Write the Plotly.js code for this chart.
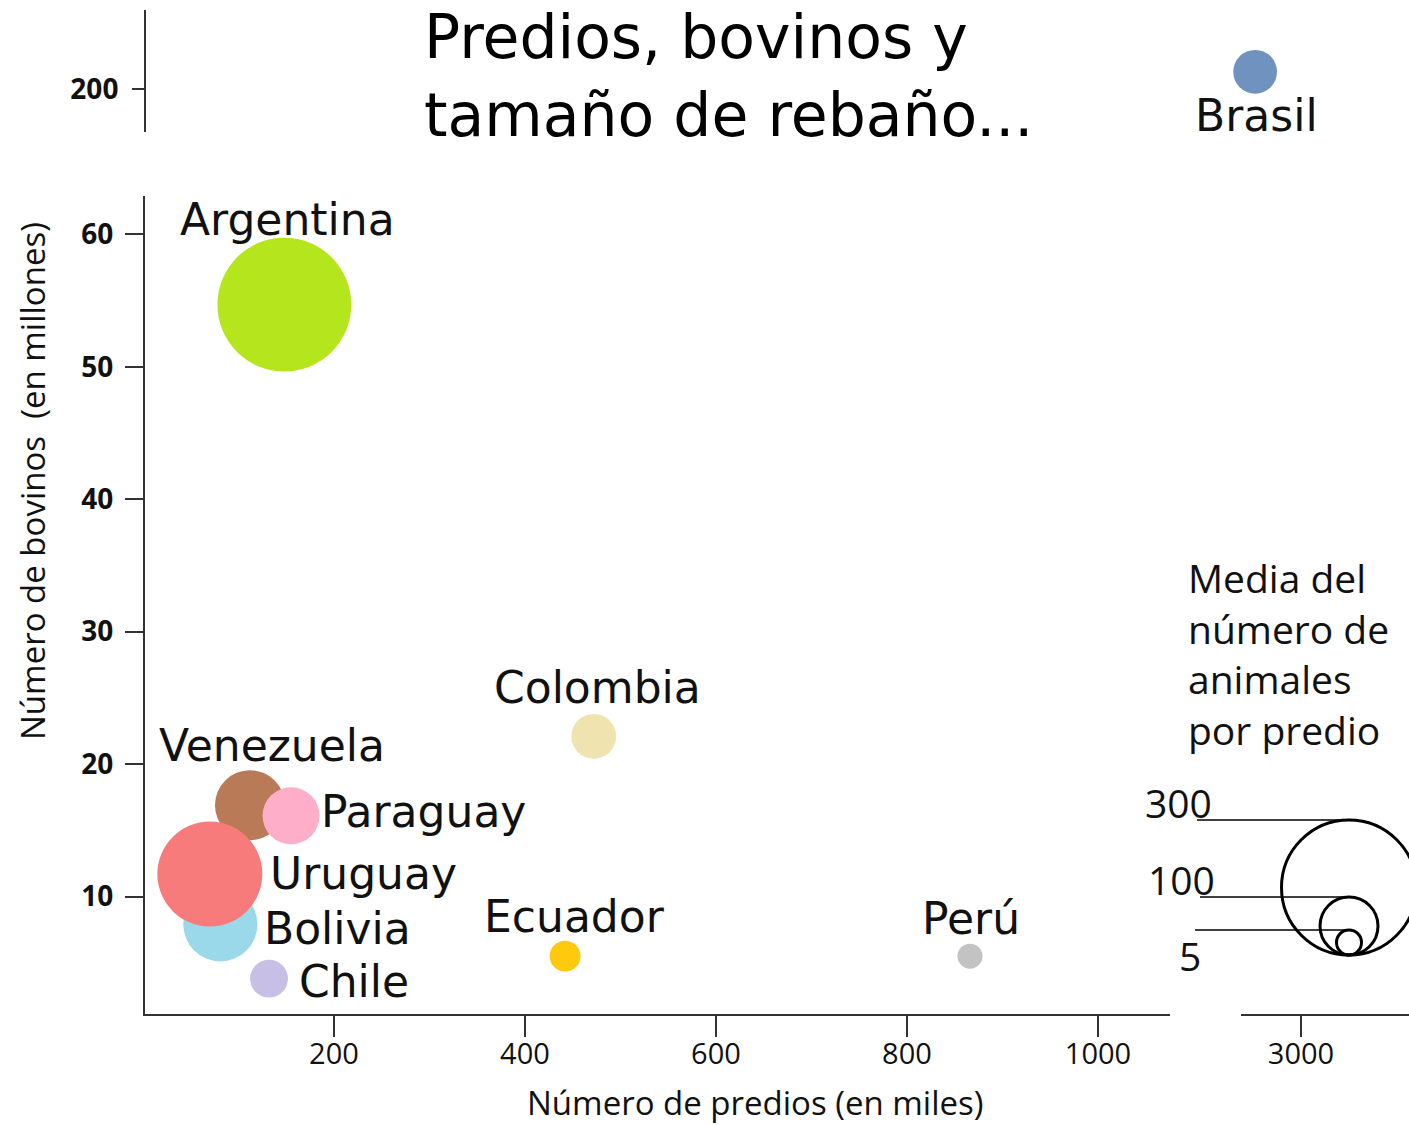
<!DOCTYPE html>
<html>
<head>
<meta charset="utf-8">
<script src="https://cdn.plot.ly/plotly-3.0.1.min.js"></script>
<style>
  html, body { margin: 0; padding: 0; background: #ffffff; }
  #chart { width: 1409px; height: 1125px; }
</style>
</head>
<body>
<div id="chart"></div>
<script>
// ---------- DATA ----------
const paises        = ['Argentina', 'Colombia', 'Venezuela', 'Paraguay', 'Bolivia', 'Uruguay', 'Chile', 'Ecuador', 'Perú'];
const predios       = [148, 472, 112, 155, 81, 70, 132, 442, 866];          // miles
const bovinos       = [54.7, 22.1, 16.9, 16.1, 7.9, 11.7, 3.8, 5.5, 5.5];   // millones
const mediaAnimales = [297, 62, 131, 97, 142, 222, 42, 22, 5];              // animales por predio

const paisBrasil    = ['Brasil'];
const prediosBrasil = [2952];
const bovinosBrasil = [201.3];
const mediaBrasil   = [59];

const leyendaValores = [300, 100, 5];
const leyendaTextos  = ['300', '100', '5'];

const xTicks  = [200, 400, 600, 800, 1000];
const xTicks2 = [3000];
const yTicks  = [10, 20, 30, 40, 50, 60];
const yTicks2 = [200];

// ---------- STYLE ----------
const W = 1409, H = 1125;
const px = v => v / W;          // pixel -> paper x
const py = v => 1 - v / H;      // pixel -> paper y
const colores = ['#b5e61d', '#efe4b0', '#b97a57', '#ffaec9', '#99d9ea', '#f77b7b', '#c8bfe7', '#ffc90e', '#c3c3c3'];
const colorBrasil = '#7092be';
const FONT = 'Open Sans, Lato, DejaVu Sans, sans-serif';
const LABELFONT = 'DejaVu Sans, Open Sans, sans-serif';
const axisColor = '#333333';

// bubble diameter scale, as implied by the size legend (piecewise linear)
const escala = [[5, 25], [100, 58], [300, 135]];
function diametro(v) {
  for (let i = 0; i < escala.length - 1; i++) {
    const [a, da] = escala[i], [b, db] = escala[i + 1];
    if (v <= b || i === escala.length - 2) {
      return da + (v - a) * (db - da) / (b - a);
    }
  }
}

// label offsets (px) relative to each bubble
const offsets = {
  'Argentina': [3, 85], 'Colombia': [4, 49], 'Venezuela': [22, 60], 'Paraguay': [132, 4],
  'Uruguay': [154, 1], 'Bolivia': [117, -4], 'Chile': [85, -3], 'Ecuador': [9, 40],
  'Perú': [1, 38], 'Brasil': [1, -44]
};

const traces = [
  {
    type: 'scatter', mode: 'markers',
    x: predios, y: bovinos, text: paises,
    xaxis: 'x', yaxis: 'y', cliponaxis: false,
    marker: { size: mediaAnimales.map(diametro), sizemode: 'diameter', color: colores, opacity: 1, line: { width: 0 } },
    hovertemplate: '%{text}<br>%{x} mil predios<br>%{y} M bovinos<extra></extra>',
    showlegend: false
  },
  {
    type: 'scatter', mode: 'markers',
    x: prediosBrasil, y: bovinosBrasil, text: paisBrasil,
    xaxis: 'x2', yaxis: 'y2', cliponaxis: false,
    marker: { size: mediaBrasil.map(diametro), sizemode: 'diameter', color: colorBrasil, opacity: 1, line: { width: 0 } },
    hovertemplate: '%{text}<br>%{x} mil predios<br>%{y} M bovinos<extra></extra>',
    showlegend: false
  }
];

const labelFont = { family: LABELFONT, size: 44, color: '#111111' };
const annotations = [];
paises.forEach((p, i) => {
  annotations.push({
    xref: 'x', yref: 'y', x: predios[i], y: bovinos[i], text: p, showarrow: false,
    xanchor: 'center', yanchor: 'middle', xshift: offsets[p][0], yshift: offsets[p][1],
    font: labelFont
  });
});
annotations.push({
  xref: 'x2', yref: 'y2', x: prediosBrasil[0], y: bovinosBrasil[0], text: paisBrasil[0], showarrow: false,
  xanchor: 'center', yanchor: 'middle', xshift: offsets['Brasil'][0], yshift: offsets['Brasil'][1],
  font: labelFont
});

// axis titles
annotations.push({
  xref: 'paper', yref: 'paper', x: px(756), y: py(1102), text: 'Número de predios (en miles)',
  showarrow: false, xanchor: 'center', yanchor: 'middle',
  font: { family: FONT, size: 33, color: '#111111' }
});
annotations.push({
  xref: 'paper', yref: 'paper', x: px(32), y: py(481), text: 'Número de bovinos  (en millones)',
  showarrow: false, xanchor: 'center', yanchor: 'middle', textangle: -90,
  font: { family: FONT, size: 33, color: '#111111' }
});

// size legend
annotations.push({
  xref: 'paper', yref: 'paper', x: px(1186), y: py(549), text: 'Media del<br>número de<br>animales<br>por predio',
  showarrow: false, xanchor: 'left', yanchor: 'top', align: 'left',
  font: { family: FONT, size: 39, color: '#111111' }
});

const shapes = [];
const cx = 1349, base = 955;
const labelPos = [[1178, 802], [1181, 879], [1190, 955]];
const lineStart = [1197, 1200, 1195];
leyendaValores.forEach((v, i) => {
  const d = diametro(v);
  shapes.push({
    type: 'circle', xref: 'paper', yref: 'paper',
    x0: px(cx - d / 2), x1: px(cx + d / 2), y0: py(base), y1: py(base - d),
    line: { color: '#000000', width: 3 }, fillcolor: 'rgba(0,0,0,0)'
  });
  shapes.push({
    type: 'line', xref: 'paper', yref: 'paper',
    x0: px(lineStart[i]), x1: px(cx), y0: py(base - d), y1: py(base - d),
    line: { color: '#000000', width: 1.5 }
  });
  annotations.push({
    xref: 'paper', yref: 'paper', x: px(labelPos[i][0]), y: py(labelPos[i][1]), text: leyendaTextos[i],
    showarrow: false, xanchor: 'center', yanchor: 'middle',
    font: { family: FONT, size: 39, color: '#111111' }
  });
});

const tickFont = { family: FONT, size: 29, color: '#111111' };
const yTickFont = { family: FONT, size: 28, color: '#111111', weight: 'bold' };

const layout = {
  width: W, height: H,
  margin: { l: 0, r: 0, t: 0, b: 0 },
  paper_bgcolor: '#ffffff', plot_bgcolor: '#ffffff',
  showlegend: false,
  title: {
    text: 'Predios, bovinos y<br>tamaño de rebaño...',
    xref: 'container', yref: 'container',
    x: px(424), xanchor: 'left',
    y: 1 - 58 / H, yanchor: 'middle',
    font: { family: LABELFONT, size: 60, color: '#000000' }
  },
  xaxis: {
    domain: [px(145), px(1170)], range: [2.1, 1075.4], anchor: 'y',
    tickvals: xTicks, ticktext: xTicks.map(String), ticks: 'outside', ticklen: 21, tickwidth: 1.5, tickcolor: axisColor,
    ticklabelstandoff: -8,
    showline: true, linecolor: axisColor, linewidth: 2, showgrid: false, zeroline: false,
    tickfont: tickFont, fixedrange: true
  },
  xaxis2: {
    domain: [px(1241), 1], range: [2937.2, 3113.1], anchor: 'y',
    tickvals: xTicks2, ticktext: xTicks2.map(String), ticks: 'outside', ticklen: 21, tickwidth: 1.5, tickcolor: axisColor,
    ticklabelstandoff: -8,
    showline: true, linecolor: axisColor, linewidth: 2, showgrid: false, zeroline: false,
    tickfont: tickFont, fixedrange: true
  },
  yaxis: {
    domain: [py(1014), py(196)], range: [1.13, 62.9], anchor: 'x',
    tickvals: yTicks, ticktext: yTicks.map(String), ticks: 'outside', ticklen: 18, tickwidth: 1.5, tickcolor: axisColor,
    ticklabelstandoff: 6,
    showline: true, linecolor: axisColor, linewidth: 2, showgrid: false, zeroline: false,
    tickfont: yTickFont, fixedrange: true
  },
  yaxis2: {
    domain: [py(132), py(10)], range: [196.75, 205.97], anchor: 'free', position: px(145),
    tickvals: yTicks2, ticktext: yTicks2.map(String), ticks: 'outside', ticklen: 12, tickwidth: 1.5, tickcolor: axisColor,
    ticklabelstandoff: 8,
    showline: true, linecolor: axisColor, linewidth: 2, showgrid: false, zeroline: false,
    tickfont: yTickFont, fixedrange: true
  },
  annotations: annotations,
  shapes: shapes
};

Plotly.newPlot('chart', traces, layout, { displayModeBar: false, staticPlot: false });
</script>
</body>
</html>
